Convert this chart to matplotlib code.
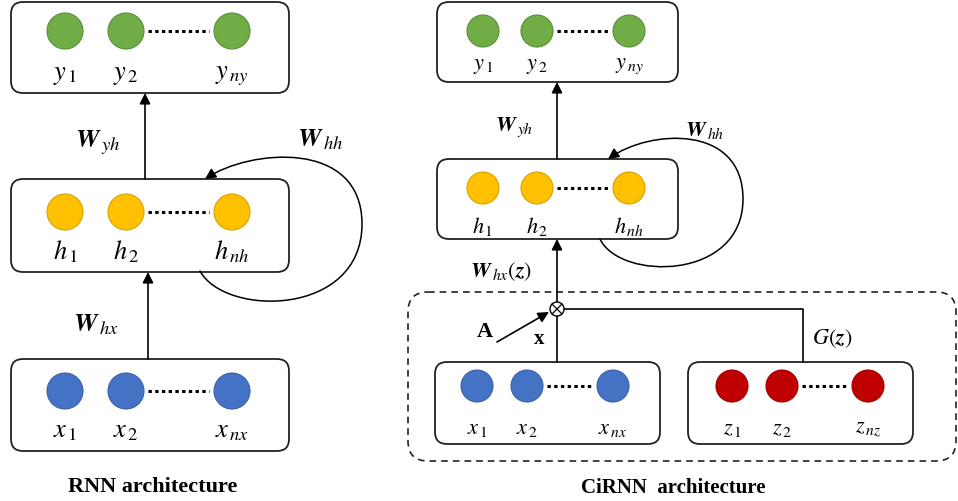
import matplotlib.pyplot as plt
from matplotlib.patches import FancyBboxPatch, Circle, FancyArrowPatch
from matplotlib.path import Path

plt.rcParams['mathtext.fontset'] = 'stix'
plt.rcParams['font.family'] = ['Liberation Serif', 'DejaVu Serif']

# node layers: name -> (fill colour, edge colour, label symbols)
layer_names = ['y', 'h', 'x', 'z']
fill_colors = ['#70AD47', '#FFC000', '#4472C4', '#C00000']
edge_colors = ['#5A8E38', '#D9A300', '#3A62AA', '#A00000']
label_subs = [['1', '2', 'ny'], ['1', '2', 'nh'], ['1', '2', 'nx'], ['1', '2', 'nz']]

# panel titles and weight labels
titles = ['RNN architecture', 'CiRNN  architecture']
weight_labels = [r'$\mathbfit{W}_{\,yh}$', r'$\mathbfit{W}_{\,hh}$', r'$\mathbfit{W}_{\,hx}$',
                 r'$\mathbfit{W}_{\,hx}(\mathbfit{z})$', r'$G(\mathbfit{z})$']

fig = plt.figure(figsize=(9.58, 5.02), dpi=100)
ax = fig.add_axes([0, 0, 1, 1])
ax.set_xlim(0, 958)
ax.set_ylim(502, 0)
ax.axis('off')


def draw_layer(k, box, cxs, cy, r, label_y, fs):
    x0, y0, x1, y1 = box
    ax.add_patch(FancyBboxPatch((x0, y0), x1 - x0, y1 - y0,
                                boxstyle='round,pad=0,rounding_size=12',
                                fc='white', ec='#222222', lw=1.3, zorder=1))
    for cx, sub in zip(cxs, label_subs[k]):
        ax.add_patch(Circle((cx, cy), r, fc=fill_colors[k], ec=edge_colors[k],
                            lw=0.8, zorder=3))
        ax.text(cx, label_y, '$%s_{\\,%s}$' % (layer_names[k], sub), ha='center',
                va='center', fontsize=fs, zorder=4)
    ax.plot([cxs[1] + r + 4, cxs[2] - r - 5], [cy, cy], color='black', lw=2.2,
            dashes=(1.1, 1.1), zorder=2)


def arrow(p0, p1, lw=1.2):
    ax.add_patch(FancyArrowPatch(p0, p1, arrowstyle='-|>', mutation_scale=16,
                                 lw=lw, color='black', shrinkA=0, shrinkB=0, zorder=2))


def loop(pts):
    codes = [Path.MOVETO] + [Path.CURVE4] * (len(pts) - 1)
    ax.add_patch(FancyArrowPatch(path=Path(pts, codes), arrowstyle='-|>',
                                 mutation_scale=16, lw=1.1, color='black', zorder=2))


# ---- left panel: RNN ----
draw_layer(0, (11, 3, 289, 94), [65, 126, 232], 32, 18, 76, 19)
draw_layer(1, (11, 180, 289, 273), [65, 126, 232], 213, 18, 252, 19)
draw_layer(2, (11, 360, 289, 452), [65, 126, 232], 392, 18, 432, 19)
arrow((145, 180), (145, 94))
arrow((148, 360), (148, 273))
loop([(200, 272), (225, 318), (362, 318), (362, 225),
      (362, 140), (250, 150), (205, 180)])
ax.text(98, 143, weight_labels[0], ha='center', va='center', fontsize=19)
ax.text(320, 140, weight_labels[1], ha='center', va='center', fontsize=19)
ax.text(96, 325, weight_labels[2], ha='center', va='center', fontsize=19)
ax.text(153, 487, titles[0], ha='center', va='center', fontsize=16, fontweight='bold')

# ---- right panel: CiRNN ----
ax.add_patch(FancyBboxPatch((408, 293), 548, 169, boxstyle='round,pad=0,rounding_size=20',
                            fc='none', ec='#222222', lw=1.2, ls=(0, (4, 3)), zorder=1))
draw_layer(0, (437, 3, 678, 83), [483, 537, 629], 32, 16, 66, 16)
draw_layer(1, (437, 160, 678, 240), [483, 537, 629], 189, 16, 227, 16)
draw_layer(2, (435, 363, 660, 445), [477, 527, 613], 387, 16, 430, 16)
draw_layer(3, (688, 363, 913, 445), [732, 782, 868], 387, 16, 430, 16)
arrow((557, 160), (557, 83))
ox, oy, orad = 557, 310, 7
arrow((ox, oy - orad), (ox, 240))
ax.plot([ox, ox], [363, oy + orad], color='black', lw=1.2, zorder=2)
ax.plot([ox + orad, 803, 803], [oy, oy, 363], color='black', lw=1.2, zorder=2)
ax.add_patch(Circle((ox, oy), orad, fc='white', ec='black', lw=1.0, zorder=3))
d = orad * 0.7
ax.plot([ox - d, ox + d], [oy - d, oy + d], color='black', lw=0.9, zorder=4)
ax.plot([ox - d, ox + d], [oy + d, oy - d], color='black', lw=0.9, zorder=4)
arrow((497, 343), (ox - orad - 1, oy + 3))
loop([(600, 240), (620, 282), (743, 282), (743, 200),
      (743, 125), (650, 130), (608, 160)])
ax.text(514, 127, weight_labels[0], ha='center', va='center', fontsize=16)
ax.text(705, 131, weight_labels[1], ha='center', va='center', fontsize=16)
ax.text(501, 272, weight_labels[3], ha='center', va='center', fontsize=16)
ax.text(832, 339, weight_labels[4], ha='center', va='center', fontsize=16)
ax.text(485, 332, 'A', ha='center', va='center', fontsize=16, fontweight='bold')
ax.text(539, 339, 'x', ha='center', va='center', fontsize=15, fontweight='bold')
ax.text(673, 488, titles[1], ha='center', va='center', fontsize=15, fontweight='bold')

fig.savefig('out.png', dpi=100)
